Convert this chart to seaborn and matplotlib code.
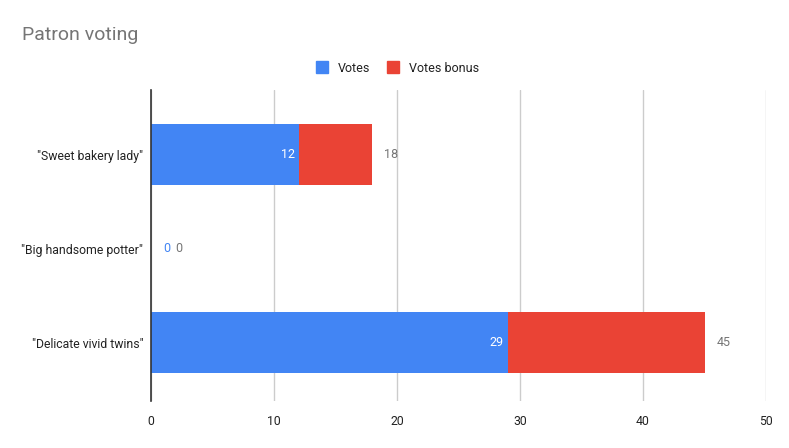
import matplotlib
matplotlib.use("Agg")
import matplotlib.pyplot as plt
import seaborn as sns
import pandas as pd
from matplotlib.lines import Line2D

categories = ['"Sweet bakery lady"', '"Big handsome potter"', '"Delicate vivid twins"']
votes = [12, 0, 29]
votes_bonus = [6, 0, 16]
x_ticks = [0, 10, 20, 30, 40, 50]

BLUE = "#4285F4"
RED = "#EA4335"

totals = [v + b for v, b in zip(votes, votes_bonus)]
df = pd.DataFrame({"category": categories, "votes": votes, "bonus": votes_bonus, "total": totals})

sns.set_theme(style="white")
plt.rcParams["font.family"] = ["Roboto", "DejaVu Sans"]

W, H = 789, 448
fig = plt.figure(figsize=(W / 100, H / 100), dpi=100)
ax = fig.add_axes([151 / W, (H - 401) / H, (766 - 151) / W, (401 - 90) / H])

sns.barplot(data=df, y="category", x="total", color=RED, orient="h", width=0.65,
            saturation=1, ax=ax, zorder=3, linewidth=0, edgecolor="none")
sns.barplot(data=df, y="category", x="votes", color=BLUE, orient="h", width=0.65,
            saturation=1, ax=ax, zorder=4, linewidth=0, edgecolor="none")

ax.set_xlim(0, 50)
ax.set_ylim(2.62, -0.686)
ax.set_xticks(x_ticks)
ax.set_xticklabels([str(t) for t in x_ticks])
ax.set_xlabel("")
ax.set_ylabel("")
ax.grid(axis="x", color="#cccccc", linewidth=1, zorder=0)
ax.grid(axis="y", visible=False)
for s in ["top", "right", "bottom"]:
    ax.spines[s].set_visible(False)
ax.spines["left"].set_color("#333333")
ax.spines["left"].set_linewidth(1.2)
ax.spines["left"].set_zorder(6)
ax.tick_params(axis="both", length=0, labelsize=8.8, labelcolor="#222222")
ax.tick_params(axis="x", pad=10)
ax.tick_params(axis="y", pad=5.5)

# data labels
px = 50 / (766 - 151)  # data units per pixel
for i, (v, t) in enumerate(zip(votes, totals)):
    if v > 0:
        ax.text(v - 4 * px, i, str(v), color="white", fontsize=9, ha="right", va="center", zorder=7)
    else:
        ax.text(v + 12 * px, i, str(v), color=BLUE, fontsize=9, ha="left", va="center", zorder=7)
    off = 12 if t > 0 else 24
    ax.text(t + off * px, i, str(t), color="#757575", fontsize=9, ha="left", va="center", zorder=7)

fig.text(22 / W, 1 - 35 / H, "Patron voting", fontsize=14, color="#757575", ha="left", va="center")

handles = [Line2D([0], [0], marker="s", linestyle="none", markersize=8.3, markerfacecolor=BLUE, markeredgecolor=BLUE),
           Line2D([0], [0], marker="s", linestyle="none", markersize=8.3, markerfacecolor=RED, markeredgecolor=RED)]
fig.legend(handles, ["Votes", "Votes bonus"], loc="center", bbox_to_anchor=(0.5, 1 - 68 / H),
           ncol=2, frameon=False, fontsize=9, handletextpad=0.3, columnspacing=0.8,
           labelcolor="#222222")

fig.savefig("out.png", dpi=100)
